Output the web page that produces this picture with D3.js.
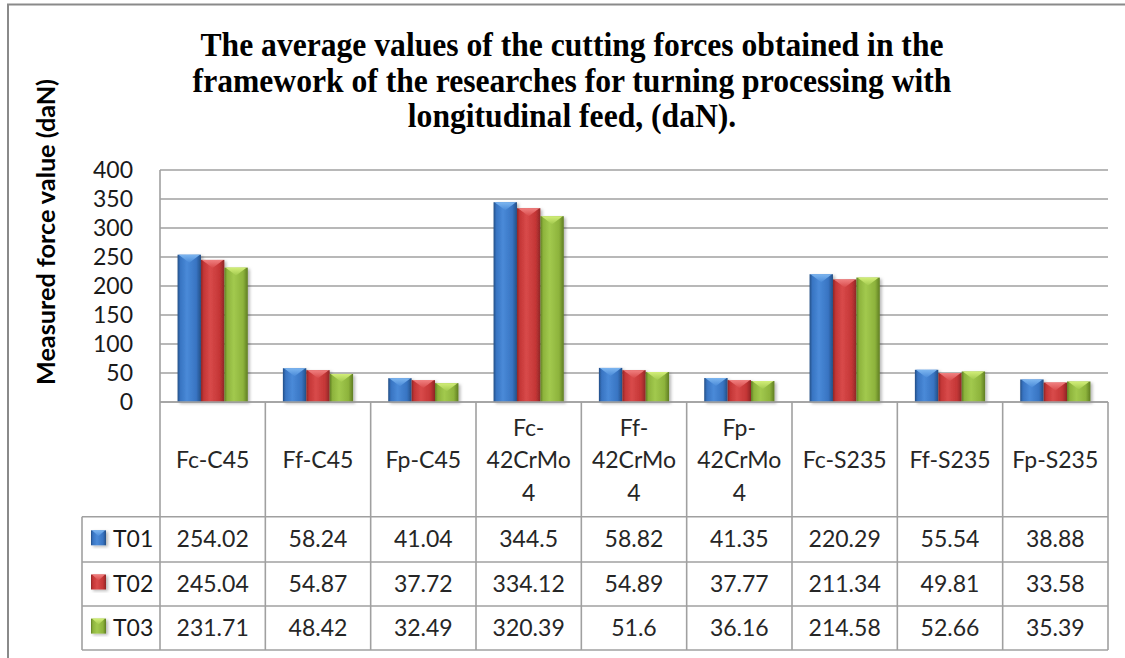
<!DOCTYPE html>
<html>
<head>
<meta charset="utf-8">
<script src="https://cdn.jsdelivr.net/npm/d3@7"></script>
<style>
  html, body { margin: 0; padding: 0; background: #ffffff; }
  svg { display: block; }
</style>
</head>
<body>
<svg id="chart" width="1125" height="658"></svg>
<script>
// Average cutting forces (daN) by force component and material
const categories = ["Fc-C45", "Ff-C45", "Fp-C45", "Fc-42CrMo4", "Ff-42CrMo4", "Fp-42CrMo4", "Fc-S235", "Ff-S235", "Fp-S235"];
const categoryLines = [["Fc-C45"], ["Ff-C45"], ["Fp-C45"], ["Fc-", "42CrMo", "4"], ["Ff-", "42CrMo", "4"], ["Fp-", "42CrMo", "4"], ["Fc-S235"], ["Ff-S235"], ["Fp-S235"]];
const seriesNames = ["T01", "T02", "T03"];
const T01 = [254.02, 58.24, 41.04, 344.5, 58.82, 41.35, 220.29, 55.54, 38.88];
const T02 = [245.04, 54.87, 37.72, 334.12, 54.89, 37.77, 211.34, 49.81, 33.58];
const T03 = [231.71, 48.42, 32.49, 320.39, 51.6, 36.16, 214.58, 52.66, 35.39];
const yTicks = [0, 50, 100, 150, 200, 250, 300, 350, 400];
const titleLines = [
  "The average values of the cutting forces obtained in the",
  "framework of the researches for turning processing with",
  "longitudinal feed, (daN)."
];
const yTitle = "Measured force value (daN)";

const seriesValues = [T01, T02, T03];

// Bar palettes: edge, body, centre highlight, top facet
const palettes = [
  { edge: "#234f86", body: "#3874c2", mid: "#4a8ad8", top: "#7db6f0" },
  { edge: "#8e2626", body: "#c43636", mid: "#d84a4a", top: "#f08080" },
  { edge: "#5f7d22", body: "#8db33c", mid: "#a2c94e", top: "#d2ee78" }
];

const svg = d3.select("#chart");
const defs = svg.append("defs");

palettes.forEach((p, i) => {
  const g = defs.append("linearGradient").attr("id", "barGrad" + i)
    .attr("x1", "0%").attr("x2", "100%").attr("y1", "0%").attr("y2", "0%");
  g.append("stop").attr("offset", "0%").attr("stop-color", p.edge);
  g.append("stop").attr("offset", "12%").attr("stop-color", p.body);
  g.append("stop").attr("offset", "40%").attr("stop-color", p.mid);
  g.append("stop").attr("offset", "80%").attr("stop-color", p.body);
  g.append("stop").attr("offset", "100%").attr("stop-color", p.edge);
  const t = defs.append("linearGradient").attr("id", "topGrad" + i)
    .attr("x1", "0%").attr("x2", "0%").attr("y1", "0%").attr("y2", "100%");
  t.append("stop").attr("offset", "0%").attr("stop-color", p.top);
  t.append("stop").attr("offset", "100%").attr("stop-color", p.mid);
});

const shadow = defs.append("filter").attr("id", "barShadow")
  .attr("x", "-20%").attr("y", "-10%").attr("width", "160%").attr("height", "130%");
shadow.append("feDropShadow").attr("dx", 2).attr("dy", 1.5)
  .attr("stdDeviation", 1.8).attr("flood-color", "#000").attr("flood-opacity", 0.28);

// Outer frame (left and top edges)
svg.append("path")
  .attr("d", "M8,658 L8,4.5 L1125,4.5")
  .attr("fill", "none").attr("stroke", "#8a8a8a").attr("stroke-width", 2);

// Layout
const plotLeft = 160, plotRight = 1108, plotTop = 170, plotBottom = 402;
const rowTops = [516.7, 562, 606, 650];
const legendLeft = 82;

const x = d3.scaleBand().domain(categories).range([plotLeft, plotRight]).paddingInner(0).paddingOuter(0);
const xs = d3.scaleBand().domain(seriesNames).range([0, x.bandwidth()]).paddingInner(0).paddingOuter(0.75);
const y = d3.scaleLinear().domain([0, 400]).range([plotBottom, plotTop]);

const gridColor = "#a0a0a0";
const textFont = "Lato, 'Open Sans', sans-serif";
const fs = 23;

// Horizontal gridlines
svg.append("g").selectAll("line").data(yTicks).join("line")
  .attr("x1", plotLeft).attr("x2", plotRight)
  .attr("y1", d => y(d)).attr("y2", d => y(d))
  .attr("stroke", gridColor).attr("stroke-width", 1.6);

// Value axis line
svg.append("line").attr("x1", plotLeft).attr("x2", plotLeft)
  .attr("y1", y(400)).attr("y2", plotBottom)
  .attr("stroke", gridColor).attr("stroke-width", 1.6);

// Y tick labels
svg.append("g").selectAll("text").data(yTicks).join("text")
  .attr("x", 133).attr("y", d => y(d) + 8)
  .attr("text-anchor", "end")
  .attr("font-family", textFont).attr("font-size", fs)
  .attr("fill", "#1a1a1a")
  .text(d => d);

// Y axis title
svg.append("text")
  .attr("transform", `translate(55, 232) rotate(-90)`)
  .attr("text-anchor", "middle")
  .attr("font-family", textFont).attr("font-size", 24).attr("font-weight", "bold")
  .attr("textLength", 306).attr("lengthAdjust", "spacingAndGlyphs")
  .attr("fill", "#000")
  .text(yTitle);

// Bars
const barLayer = svg.append("g");
seriesValues.forEach((vals, si) => {
  const bw = xs.bandwidth();
  const grp = barLayer.append("g");
  const bars = grp.selectAll("g").data(vals.map((v, ci) => ({ v, c: categories[ci] }))).join("g");
  bars.append("rect")
    .attr("x", d => x(d.c) + xs(seriesNames[si]))
    .attr("y", d => y(d.v))
    .attr("width", bw)
    .attr("height", d => plotBottom - y(d.v))
    .attr("fill", `url(#barGrad${si})`)
    .attr("filter", "url(#barShadow)");
  bars.append("path")
    .attr("d", d => {
      const x0 = x(d.c) + xs(seriesNames[si]);
      const t = y(d.v);
      const h = Math.min(8, (plotBottom - t) / 2);
      return `M${x0 + 1},${t} L${x0 + bw - 1},${t} L${x0 + bw / 2},${t + h} Z`;
    })
    .attr("fill", `url(#topGrad${si})`);
});

// Data table: grid lines
const tbl = svg.append("g").attr("stroke", gridColor).attr("stroke-width", 1.6);
tbl.append("line").attr("x1", plotLeft).attr("x2", plotRight).attr("y1", plotBottom).attr("y2", plotBottom);
rowTops.forEach(ry => {
  tbl.append("line").attr("x1", legendLeft).attr("x2", plotRight).attr("y1", ry).attr("y2", ry);
});
d3.range(categories.length + 1).forEach(i => {
  const cx = i < categories.length ? x(categories[i]) : plotRight;
  tbl.append("line").attr("x1", cx).attr("x2", cx).attr("y1", plotBottom).attr("y2", rowTops[3]);
});
tbl.append("line").attr("x1", legendLeft).attr("x2", legendLeft).attr("y1", rowTops[0]).attr("y2", rowTops[3]);

// Category header cells
const header = svg.append("g");
categoryLines.forEach((lines, ci) => {
  const cx = x(categories[ci]) + x.bandwidth() / 2;
  const lh = 32.5;
  const base = 468 - (lines.length - 1) / 2 * lh;
  lines.forEach((ln, li) => {
    header.append("text")
      .attr("x", cx).attr("y", base + li * lh)
      .attr("text-anchor", "middle")
      .attr("font-family", textFont).attr("font-size", fs)
      .attr("fill", "#262626")
      .text(ln);
  });
});

// Legend keys and series rows
const rowBase = [547.3, 591.5, 635.6];
seriesNames.forEach((name, si) => {
  const rb = rowBase[si];
  const kx = 91, ky = rb - 17, ks = 15;
  svg.append("rect").attr("x", kx).attr("y", ky).attr("width", ks).attr("height", ks)
    .attr("fill", `url(#barGrad${si})`).attr("filter", "url(#barShadow)");
  svg.append("path")
    .attr("d", `M${kx + 1},${ky} L${kx + ks - 1},${ky} L${kx + ks / 2},${ky + 6} Z`)
    .attr("fill", `url(#topGrad${si})`);
  svg.append("text").attr("x", 113).attr("y", rb)
    .attr("font-family", textFont).attr("font-size", fs).attr("fill", "#1a1a1a")
    .text(name);
  svg.append("g").selectAll("text").data(seriesValues[si]).join("text")
    .attr("x", (d, ci) => x(categories[ci]) + x.bandwidth() / 2)
    .attr("y", rb)
    .attr("text-anchor", "middle")
    .attr("font-family", textFont).attr("font-size", fs).attr("fill", "#262626")
    .text(d => String(d));
});

// Chart title, three centred lines, set slightly condensed
const titleG = svg.append("g");
const titleBases = [55.7, 91.7, 127.3];
const titleNodes = titleLines.map((ln, i) => titleG.append("text")
  .attr("x", 572).attr("y", titleBases[i])
  .attr("text-anchor", "middle")
  .attr("font-family", "'Liberation Serif', 'Times New Roman', serif")
  .attr("font-size", 34).attr("font-weight", "bold").attr("fill", "#000")
  .text(ln));
const ratio = 743 / titleNodes[0].node().getComputedTextLength();
titleNodes.forEach(t => {
  const w = t.node().getComputedTextLength();
  t.attr("textLength", w * ratio).attr("lengthAdjust", "spacingAndGlyphs");
});
</script>
</body>
</html>
